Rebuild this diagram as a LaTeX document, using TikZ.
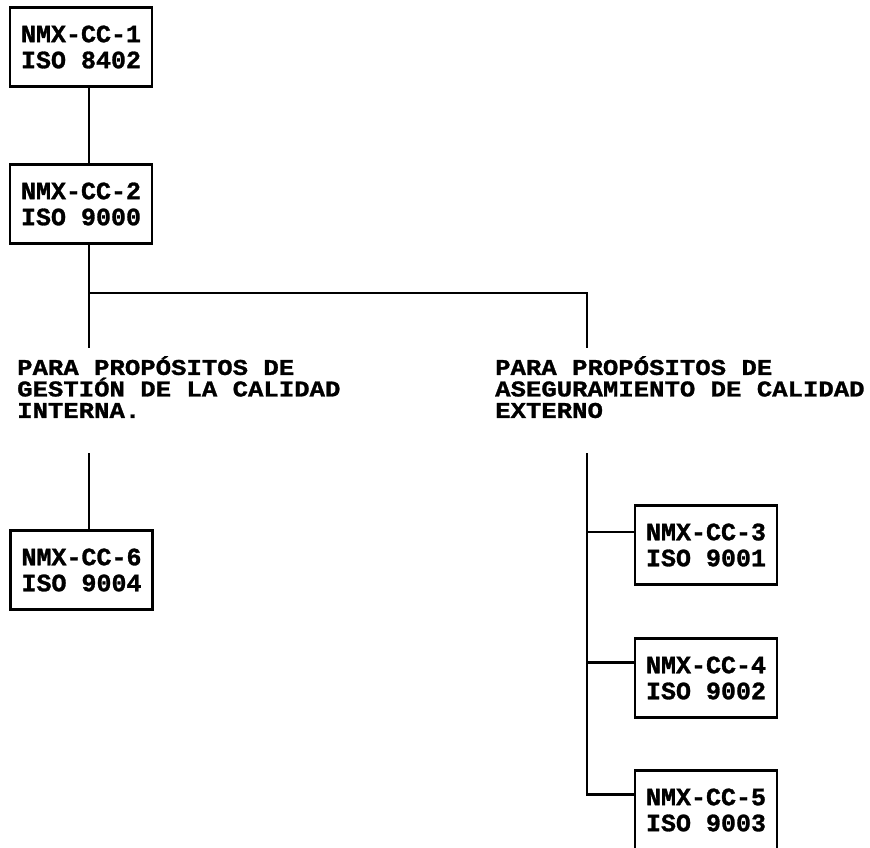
\documentclass[tikz,border=0pt]{standalone}
\usepackage{fontspec}
\newfontfamily\dm{Liberation Mono}[BoldFeatures={FakeBold=1.2}]
\newfontfamily\dl{Liberation Mono}[FakeStretch=1.14,BoldFeatures={FakeBold=1.2}]
\usetikzlibrary{calc}
\begin{document}
\begin{tikzpicture}[x=1pt,y=-1pt,
  boxnode/.style={draw, line width=2.8pt, minimum width=142pt, minimum height=79pt,
    inner sep=0pt, align=left, font=\dm\bfseries\fontsize{25}{26}\selectfont},
  labnode/.style={inner sep=0pt, align=left, anchor=north west,
    font=\dl\bfseries\fontsize{22.5}{21.5}\selectfont},
  conn/.style={line width=2.8pt}]
\useasboundingbox (0,0) rectangle (870,847);
\clip (0,0) rectangle (870,847);
% boxes
\node[boxnode] (b1) at (81,47) {NMX-CC-1\\ISO 8402};
\node[boxnode] (b2) at (81,204) {NMX-CC-2\\ISO 9000};
\node[boxnode] (b6) at (81.5,570) {NMX-CC-6\\ISO 9004};
\node[boxnode] (b3) at (706,545) {NMX-CC-3\\ISO 9001};
\node[boxnode] (b4) at (706,678) {NMX-CC-4\\ISO 9002};
\node[boxnode] (b5) at (706,810) {NMX-CC-5\\ISO 9003};
% labels
\node[labnode] (lab1) at (17,356) {PARA PROPÓSITOS DE\\GESTIÓN DE LA CALIDAD\\INTERNA.};
\node[labnode] (lab2) at (495,356) {PARA PROPÓSITOS DE\\ASEGURAMIENTO DE CALIDAD\\EXTERNO};
% free ends
\coordinate (j) at (89,293);
\coordinate (a1) at (89,348);
\coordinate (a2) at (89,453);
\coordinate (c1) at (587,348);
\coordinate (c2) at (587,453);
\coordinate (j3) at ($(b3.north west)!0.34!(b3.south west)$);
\coordinate (j4) at ($(b4.north west)!0.31!(b4.south west)$);
\coordinate (j5) at ($(b5.north west)!0.31!(b5.south west)$);
% connectors
\draw[conn] ([xshift=8pt]b1.south) -- ([xshift=8pt]b2.north);
\draw[conn] ([xshift=8pt]b2.south) -- (a1);
\draw[conn] (j) -| (c1);
\draw[conn] (a2) -- ([xshift=7.5pt]b6.north);
\draw[conn] (c2) |- (j5);
\draw[conn] (c2 |- j3) -- (j3);
\draw[conn] (c2 |- j4) -- (j4);
\end{tikzpicture}
\end{document}
